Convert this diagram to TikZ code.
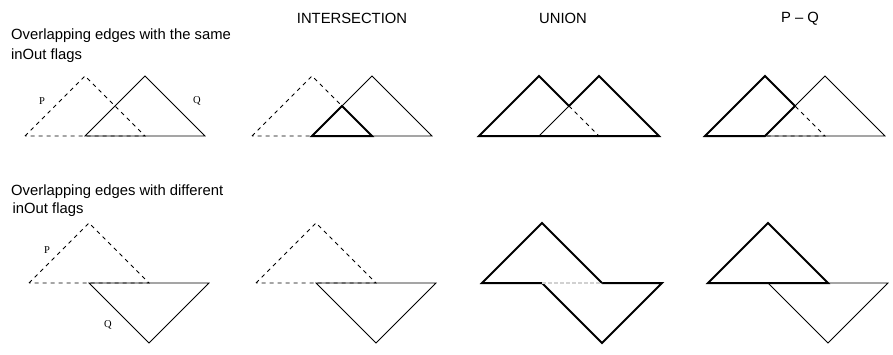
\documentclass[tikz,border=0pt]{standalone}
\usepackage{fontspec}
\setmainfont{Liberation Sans}
\newfontfamily\polyfont{Liberation Serif}
\usepackage{tikz}

\begin{document}
\begin{tikzpicture}[
  x=1pt, y=-1pt,
  font=\fontsize{14.8}{17}\selectfont,
  title/.style={inner sep=0pt, anchor=center},
  caption/.style={inner sep=0pt, anchor=base west},
  lbl/.style={inner sep=0pt, font=\polyfont\fontsize{10.5}{12}\selectfont},
  pedge/.style={line width=.8pt, dash pattern=on 4pt off 4pt},
  qedge/.style={line width=.8pt},
  res/.style={line width=2pt, line join=miter},
  gone/.style={line width=1.6pt, draw=black!18, dash pattern=on 4pt off 2pt},
]
\useasboundingbox (0,0) rectangle (893,354);

% column titles
\node[title] (tint) at (352,18.5) {INTERSECTION};
\node[title] (tuni) at (563,18.5) {UNION};
\node[title] (tdif) at (800,18.5) {P -- Q};

% row captions
\node[caption] (same1) at (11,39) {Overlapping edges with the same};
\node[caption] (same2) at (11,59) {inOut flags};
\node[caption] (diff1) at (11,195) {Overlapping edges with different};
\node[caption] (diff2) at (11,213) {\hspace*{1.5pt}inOut flags};

% row 1: same inOut flags
\begin{scope}[shift={(25,136)}]
  \draw[pedge] (0,0) -- (60,-60) -- (120,0) -- cycle;
  \draw[qedge] (60,0) -- (120,-60) -- (180,0) -- cycle;
  \node[lbl] (p1) at (17,-35) {P};
  \node[lbl] (q1) at (172,-35) {Q};
\end{scope}
\begin{scope}[shift={(252,136)}]
  \draw[pedge] (0,0) -- (60,-60) -- (120,0) -- cycle;
  \draw[qedge] (60,0) -- (120,-60) -- (180,0) -- cycle;
  \draw[res] (60,0) -- (90,-30) -- (120,0) -- cycle;
\end{scope}
\begin{scope}[shift={(479,136)}]
  \draw[qedge] (60,0) -- (90,-30);
  \draw[pedge] (90,-30) -- (120,0);
  \draw[res] (0,0) -- (60,-60) -- (90,-30) -- (120,-60) -- (180,0) -- cycle;
\end{scope}
\begin{scope}[shift={(705,136)}]
  \draw[pedge] (0,0) -- (60,-60) -- (120,0) -- cycle;
  \draw[qedge] (60,0) -- (120,-60) -- (180,0) -- cycle;
  \draw[res] (60,0) -- (0,0) -- (60,-60) -- (90,-30) -- cycle;
\end{scope}

% row 2: different inOut flags
\begin{scope}[shift={(29,283)}]
  \draw[pedge] (0,0) -- (60,-60) -- (120,0) -- cycle;
  \draw[qedge] (60,0) -- (120,60) -- (180,0) -- cycle;
  \node[lbl] (p2) at (18,-33) {P};
  \node[lbl] (q2) at (79,42) {Q};
\end{scope}
\begin{scope}[shift={(256,283)}]
  \draw[pedge] (0,0) -- (60,-60) -- (120,0) -- cycle;
  \draw[qedge] (60,0) -- (120,60) -- (180,0) -- cycle;
\end{scope}
\begin{scope}[shift={(482,283)}]
  \draw[res] (60,0) -- (0,0) -- (60,-60) -- (120,0);
  \draw[res] (60,0) -- (120,60) -- (180,0) -- (120,0);
  \draw[gone] (60,0) -- (120,0);
\end{scope}
\begin{scope}[shift={(708,283)}]
  \draw[qedge] (60,0) -- (120,60) -- (180,0) -- cycle;
  \draw[res] (0,0) -- (60,-60) -- (120,0) -- cycle;
\end{scope}
\end{tikzpicture}
\end{document}
